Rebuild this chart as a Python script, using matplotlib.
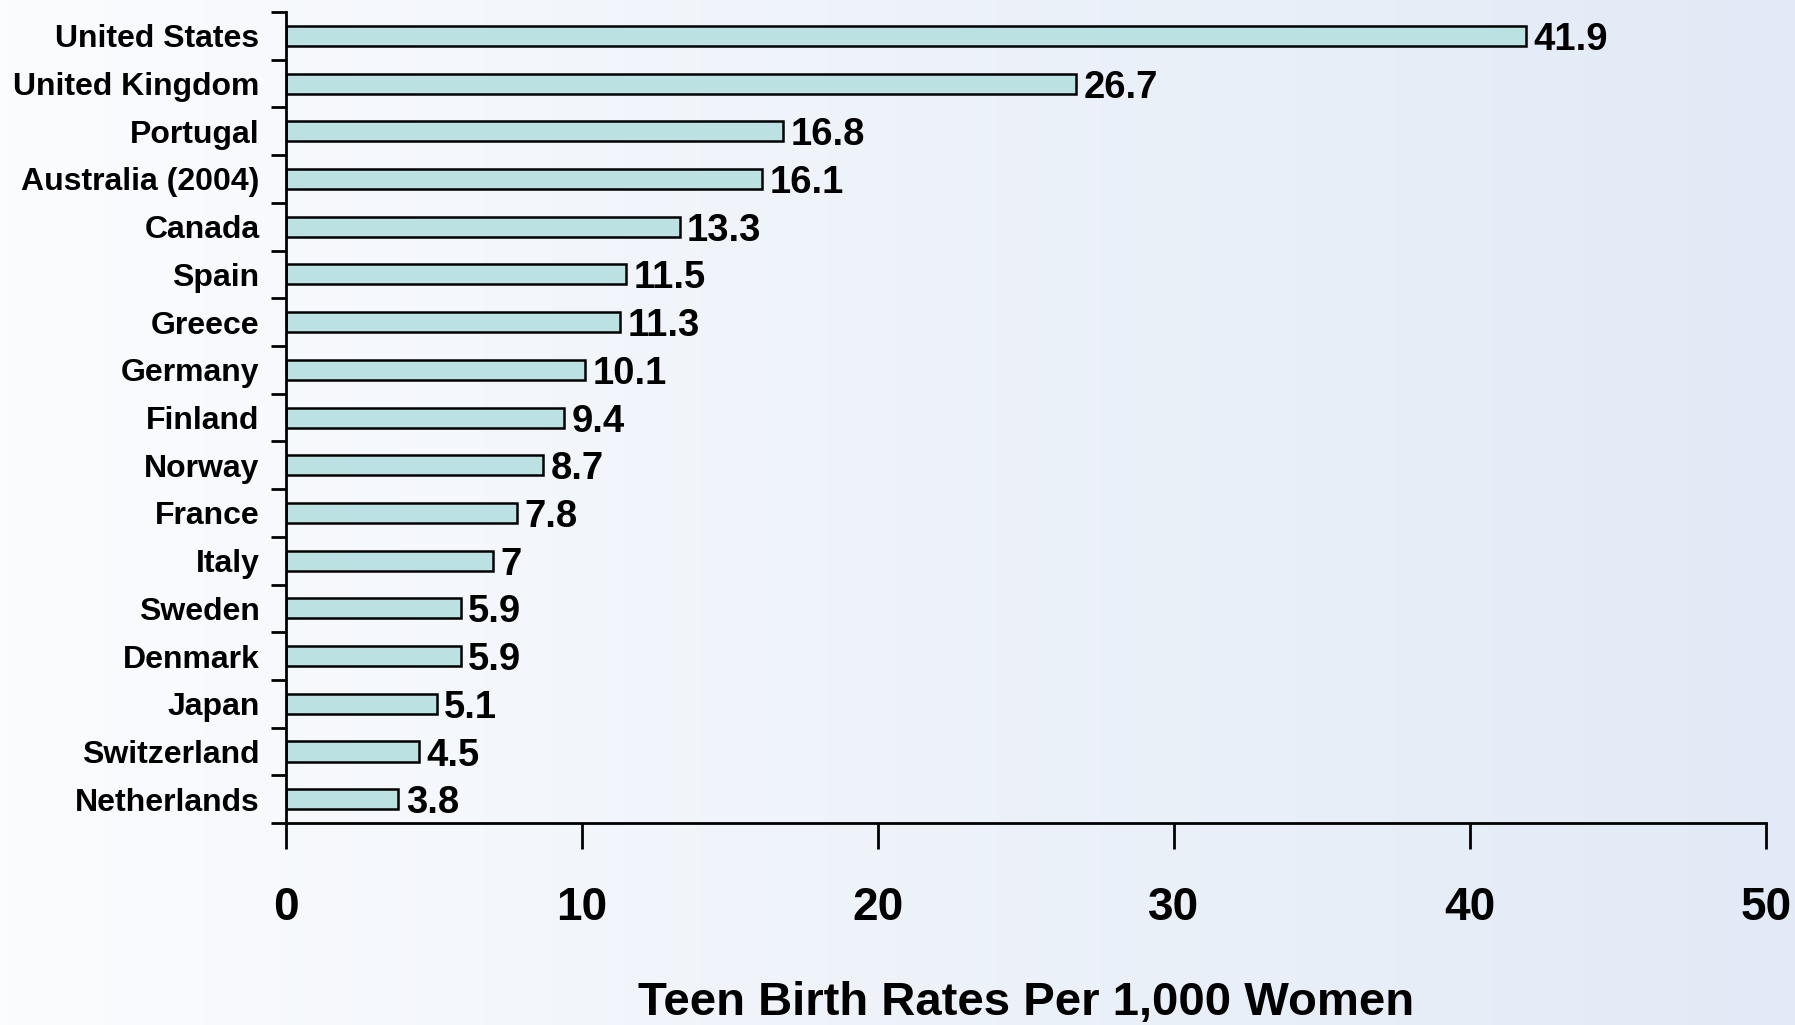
import numpy as np
import matplotlib
matplotlib.use('Agg')
import matplotlib.pyplot as plt

countries = ['United States', 'United Kingdom', 'Portugal', 'Australia (2004)',
             'Canada', 'Spain', 'Greece', 'Germany', 'Finland', 'Norway',
             'France', 'Italy', 'Sweden', 'Denmark', 'Japan', 'Switzerland',
             'Netherlands']
rates = [41.9, 26.7, 16.8, 16.1, 13.3, 11.5, 11.3, 10.1, 9.4, 8.7,
         7.8, 7.0, 5.9, 5.9, 5.1, 4.5, 3.8]
rate_labels = ['41.9', '26.7', '16.8', '16.1', '13.3', '11.5', '11.3', '10.1',
               '9.4', '8.7', '7.8', '7', '5.9', '5.9', '5.1', '4.5', '3.8']
xticks = [0, 10, 20, 30, 40, 50]

plt.rcParams['font.family'] = ['Liberation Sans', 'DejaVu Sans']
plt.rcParams['font.weight'] = 'bold'

fig = plt.figure(figsize=(17.95, 10.25), dpi=100)

# background gradient, white-ish on the left to pale blue on the right
bg = fig.add_axes([0, 0, 1, 1], zorder=0)
grad = np.linspace(0, 1, 256).reshape(1, -1)
left = np.array([0xfb, 0xfc, 0xfe]) / 255
right = np.array([0xe1, 0xea, 0xf6]) / 255
img = left[None, None, :] + (right - left)[None, None, :] * grad[..., None]
bg.imshow(img, aspect='auto', extent=[0, 1, 0, 1])
bg.axis('off')

ax = fig.add_axes([0.1593, 0.197, 0.8245, 0.7913], zorder=1)
ax.patch.set_alpha(0)

n = len(countries)
ypos = np.arange(n)
ax.barh(ypos, rates, height=0.42, color='#bbe1e3', edgecolor='black', linewidth=1.8)

for y, v, lab in zip(ypos, rates, rate_labels):
    ax.text(v + 0.25, y, lab, va='center_baseline', ha='left', fontsize=27.5,
            fontweight='bold')

ax.set_xlim(0, 50)
ax.set_ylim(n - 0.5, -0.5)

# major y ticks at category boundaries, labels on minor ticks at centers
ax.set_yticks(np.arange(n + 1) - 0.5)
ax.set_yticklabels([])
ax.set_yticks(ypos, minor=True)
ax.set_yticklabels(countries, minor=True, fontsize=23, fontweight='bold')
ax.tick_params(axis='y', which='major', length=11, width=2, direction='out')
ax.tick_params(axis='y', which='minor', length=0, pad=19)

ax.set_xticks(xticks)
ax.set_xticklabels([str(t) for t in xticks], fontsize=33, fontweight='bold')
ax.tick_params(axis='x', length=19, width=2, direction='out', pad=26)

for side in ['top', 'right']:
    ax.spines[side].set_visible(False)
for side in ['left', 'bottom']:
    ax.spines[side].set_linewidth(2)

ax.set_xlabel('Teen Birth Rates Per 1,000 Women', fontsize=34, fontweight='bold')
ax.xaxis.set_label_coords(0.5, -0.195)

fig.savefig('out.png', dpi=100)
